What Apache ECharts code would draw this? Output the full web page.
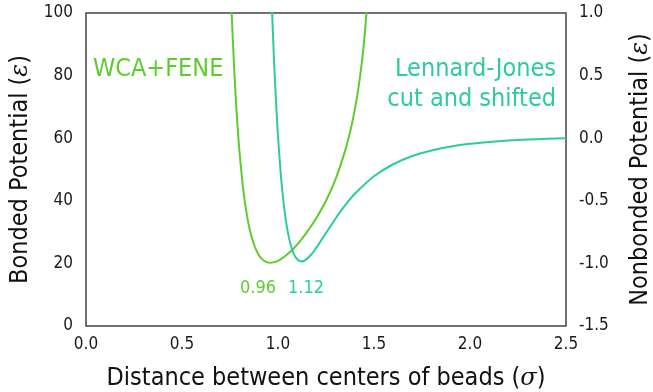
<!DOCTYPE html>
<html>
<head>
<meta charset="utf-8">
<script src="https://cdn.jsdelivr.net/npm/echarts@6/dist/echarts.min.js"></script>
<style>
html,body{margin:0;padding:0;background:#fff;}
#c{width:653px;height:392px;}
</style>
</head>
<body>
<div id="c"></div>
<script>
// Bonded potential (WCA+FENE), left axis
const bondedR = [0.75,0.76,0.77,0.78,0.79,0.80,0.82,0.84,0.86,0.88,0.90,0.92,0.94,0.96,0.98,1.00,1.02,1.05,1.08,1.1225,1.15,1.20,1.25,1.30,1.35,1.38,1.40,1.42,1.44,1.45,1.46,1.465];
const bondedU = [114.5,98.0,84.6,72.8,63.3,55.3,43.1,34.7,29.0,25.2,22.7,21.2,20.4,20.2,20.4,20.8,21.6,23.0,24.7,27.7,29.9,34.5,40.0,46.9,56.1,63.2,69.2,76.5,85.9,92.0,99.4,103.8];
// Nonbonded potential (LJ cut and shifted), right axis
const ljR = [0.96,0.97,0.98,0.99,1.00,1.02,1.04,1.06,1.08,1.10,1.1225,1.14,1.17,1.20,1.25,1.30,1.35,1.40,1.50,1.60,1.70,1.80,1.90,2.00,2.10,2.20,2.30,2.40,2.50];
const ljU = [1.434,0.979,0.598,0.281,0.016,-0.382,-0.647,-0.816,-0.916,-0.967,-0.984,-0.976,-0.935,-0.875,-0.757,-0.641,-0.535,-0.444,-0.304,-0.208,-0.142,-0.098,-0.067,-0.045,-0.030,-0.019,-0.011,-0.005,0.000];
const xTicks = [0.0,0.5,1.0,1.5,2.0,2.5];
const minLabels = ['0.96','1.12'];

const FONT = '"DejaVu Sans Condensed", "DejaVu Sans", sans-serif';
const SERIF = '"DejaVu Serif", "Liberation Serif", serif';
const GREEN = '#5fcc2e';
const TEAL = '#2ccc9e';
const AX = '#444';

function nameStyle() {
  return {
    fontFamily: FONT, fontSize: 25, color: '#111',
    rich: {
      n: {fontFamily: FONT, fontSize: 25, color: '#111'},
      g: {fontFamily: SERIF, fontStyle: 'italic', fontSize: 24, color: '#111'}
    }
  };
}

const chart = echarts.init(document.getElementById('c'));
chart.setOption({
  animation: false,
  backgroundColor: '#fff',
  grid: {left: 86, right: 87, top: 13, bottom: 66, show: true, borderColor: AX, borderWidth: 1.5, containLabel: false, outerBoundsMode: 'none'},
  xAxis: {
    type: 'value', min: 0, max: 2.5, interval: 0.5,
    name: '{n|Distance between centers of beads (}{g|σ}{n|)}', nameLocation: 'middle', nameGap: 40,
    nameTextStyle: nameStyle(),
    axisLine: {show: false}, axisTick: {show: false}, splitLine: {show: false},
    axisLabel: {fontFamily: FONT, fontSize: 17, color: '#1a1a1a', margin: 10, formatter: v => v.toFixed(1)}
  },
  yAxis: [{
    type: 'value', min: 0, max: 100, interval: 20, position: 'left',
    name: '{n|Bonded Potential (}{g|ε}{n|)}', nameLocation: 'middle', nameGap: 52,
    nameTextStyle: nameStyle(),
    axisLine: {show: false}, axisTick: {show: false}, splitLine: {show: false},
    axisLabel: {fontFamily: FONT, fontSize: 17, color: '#1a1a1a', margin: 13}
  }, {
    type: 'value', min: -1.5, max: 1.0, interval: 0.5, position: 'right',
    name: '{n|Nonbonded Potential (}{g|ε}{n|)}', nameLocation: 'middle', nameGap: 62,
    nameTextStyle: nameStyle(),
    axisLine: {show: false}, axisTick: {show: false}, splitLine: {show: false},
    axisLabel: {fontFamily: FONT, fontSize: 17, color: '#1a1a1a', margin: 13, formatter: v => v.toFixed(1)}
  }],
  series: [{
    type: 'line', yAxisIndex: 0, smooth: 0.3, showSymbol: false, clip: true,
    lineStyle: {color: GREEN, width: 2},
    data: bondedR.map((r, i) => [r, bondedU[i]])
  }, {
    type: 'line', yAxisIndex: 1, smooth: 0.3, showSymbol: false, clip: true,
    lineStyle: {color: TEAL, width: 2},
    data: ljR.map((r, i) => [r, ljU[i]])
  }],
  graphic: [
    {type: 'text', left: 93, top: 57, style: {text: 'WCA+FENE', fill: GREEN, font: '25px ' + FONT}},
    {type: 'text', right: 97, top: 57, style: {text: 'Lennard-Jones', fill: TEAL, font: '25px ' + FONT, align: 'right'}},
    {type: 'text', right: 97, top: 87, style: {text: 'cut and shifted', fill: TEAL, font: '25px ' + FONT, align: 'right'}},
    {type: 'text', left: 240, top: 279, style: {text: minLabels[0], fill: GREEN, font: '18px ' + FONT}},
    {type: 'text', left: 288, top: 279, style: {text: minLabels[1], fill: TEAL, font: '18px ' + FONT}}
  ]
});
</script>
</body>
</html>
